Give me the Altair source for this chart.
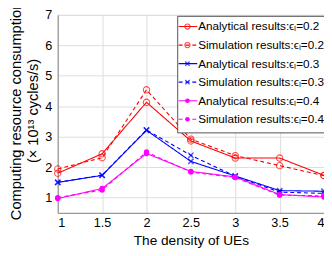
import altair as alt
import pandas as pd

# ---- data ----
density = [1, 1.5, 2, 2.5, 3, 3.5, 4]
analytical_02 = [1.80, 2.44, 4.13, 2.86, 2.30, 2.30, 1.73]
simulation_02 = [1.94, 2.31, 4.54, 2.92, 2.38, 2.05, 1.72]
analytical_03 = [1.50, 1.73, 3.21, 2.19, 1.71, 1.23, 1.21]
simulation_03 = [1.50, 1.74, 3.22, 2.39, 1.70, 1.18, 1.14]
analytical_04 = [0.97, 1.30, 2.45, 1.86, 1.68, 1.10, 1.02]
simulation_04 = [1.00, 1.25, 2.50, 1.84, 1.66, 1.08, 1.06]

series_labels = [
    "Analytical results:ϵₗ=0.2",
    "Simulation results:ϵₗ=0.2",
    "Analytical results:ϵₗ=0.3",
    "Simulation results:ϵₗ=0.3",
    "Analytical results:ϵₗ=0.4",
    "Simulation results:ϵₗ=0.4",
]
series_values = [analytical_02, simulation_02, analytical_03,
                 simulation_03, analytical_04, simulation_04]
series_colors = ["#FF0000", "#FF0000", "#0000FF", "#0000FF", "#FF00FF", "#FF00FF"]
series_dash = ["solid", "dash", "solid", "dash", "solid", "dash"]
series_marker = ["circle", "circle", "x", "x", "dot", "dot"]
x_ticks = [1, 1.5, 2, 2.5, 3, 3.5, 4]
y_ticks = [1, 2, 3, 4, 5, 6, 7]

rows = []
for lab, vals, dash, mk in zip(series_labels, series_values, series_dash, series_marker):
    for xv, yv in zip(density, vals):
        rows.append({"density": xv, "value": yv, "series": lab, "dash": dash, "marker": mk})
df = pd.DataFrame(rows)
leg = pd.DataFrame({"series": series_labels, "dash": series_dash, "marker": series_marker})

TXT = "#262626"
FONT = "Liberation Sans"
XPATH = "M-1,-1L1,1M-1,1L1,-1"

color = alt.Color("series:N", scale=alt.Scale(domain=series_labels, range=series_colors), legend=None)
dash = alt.StrokeDash("dash:N", scale=alt.Scale(domain=["solid", "dash"], range=[[1, 0], [4, 3]]), legend=None)

xscale = alt.Scale(domain=[1, 4], nice=False)
yscale = alt.Scale(domain=[0.5, 7], nice=False, zero=False)
xaxis = alt.Axis(values=x_ticks, format="~g", title="The density of UEs",
                 grid=True, ticks=False, labelPadding=4, titlePadding=4,
                 labelOverlap=False, tickCount=7,
                 labelFontSize=13, titleFontSize=14, titleFontWeight="normal")
yaxis = alt.Axis(values=y_ticks, grid=True, ticks=False, labelPadding=6,
                 labelOverlap=False, tickCount=7, format="d",
                 labelFontSize=13, titleFontSize=15, titleFontWeight="normal",
                 title=["Computing resource consumption", "(× 10¹³ cycles/s)"],
                 titleX=-50, titleY=98, titleAngle=-90, titleBaseline="top",
                 titleAlign="center", titleLineHeight=17)
xenc = alt.X("density:Q", scale=xscale, axis=xaxis)
yenc = alt.Y("value:Q", scale=yscale, axis=yaxis)

base = alt.Chart(df)
lines = base.mark_line(strokeWidth=1.1).encode(x=xenc, y=yenc, color=color, strokeDash=dash, detail="series:N")
circ = base.transform_filter(alt.datum.marker == "circle").mark_point(
    shape="circle", filled=False, size=42, strokeWidth=1.1).encode(x=xenc, y=yenc, color=color)
crosses = base.transform_filter(alt.datum.marker == "x").mark_point(
    shape=XPATH, filled=False, size=30, strokeWidth=1.4).encode(x=xenc, y=yenc, color=color)
dots = base.transform_filter(alt.datum.marker == "dot").mark_point(
    shape="circle", filled=True, opacity=1, size=30).encode(x=xenc, y=yenc, color=color)
data_layer = alt.layer(lines, circ, crosses, dots)

# legend box
ly = alt.Y("series:N", sort=series_labels,
           scale=alt.Scale(type="point", domain=series_labels, range=[12, 107], padding=0), axis=None)
lbase = alt.Chart(leg)
box = lbase.transform_filter(alt.datum.series == series_labels[0]).mark_rect(
    fill="white", stroke=TXT, strokeWidth=0.8).encode(
    x=alt.value(123), x2=alt.value(300), y=alt.value(1.5), y2=alt.value(121))
lrules = lbase.mark_rule(strokeWidth=1.1).encode(
    x=alt.value(124), x2=alt.value(143), y=ly, color=color, strokeDash=dash)
lcirc = lbase.transform_filter(alt.datum.marker == "circle").mark_point(
    shape="circle", filled=False, size=28, strokeWidth=1.1).encode(x=alt.value(133), y=ly, color=color)
lcross = lbase.transform_filter(alt.datum.marker == "x").mark_point(
    shape=XPATH, filled=False, size=20, strokeWidth=1.3).encode(x=alt.value(133), y=ly, color=color)
ldots = lbase.transform_filter(alt.datum.marker == "dot").mark_point(
    shape="circle", filled=True, opacity=1, size=22).encode(x=alt.value(133), y=ly, color=color)
ltext = lbase.mark_text(align="left", baseline="middle", fontSize=12, font=FONT, color="#000000").encode(
    x=alt.value(144), y=ly, text="series:N")
legend_layer = alt.layer(box, lrules, lcirc, lcross, ldots, ltext)

chart = alt.layer(data_layer, legend_layer).resolve_scale(
    y="independent"
).properties(
    width=273, height=203,
    autosize=alt.AutoSizeParams(type="none"),
    padding={"left": 51, "top": 4, "right": 0, "bottom": 33},
).configure_view(stroke=TXT, strokeWidth=0.8).configure_axis(
    labelFont=FONT, titleFont=FONT, labelColor=TXT, titleColor=TXT,
    domainColor=TXT, domainWidth=0.8, gridColor="#E0E0E0", gridWidth=0.8,
).configure(background="white")

chart.save("out.html", embed_options={"renderer": "svg", "actions": False})
